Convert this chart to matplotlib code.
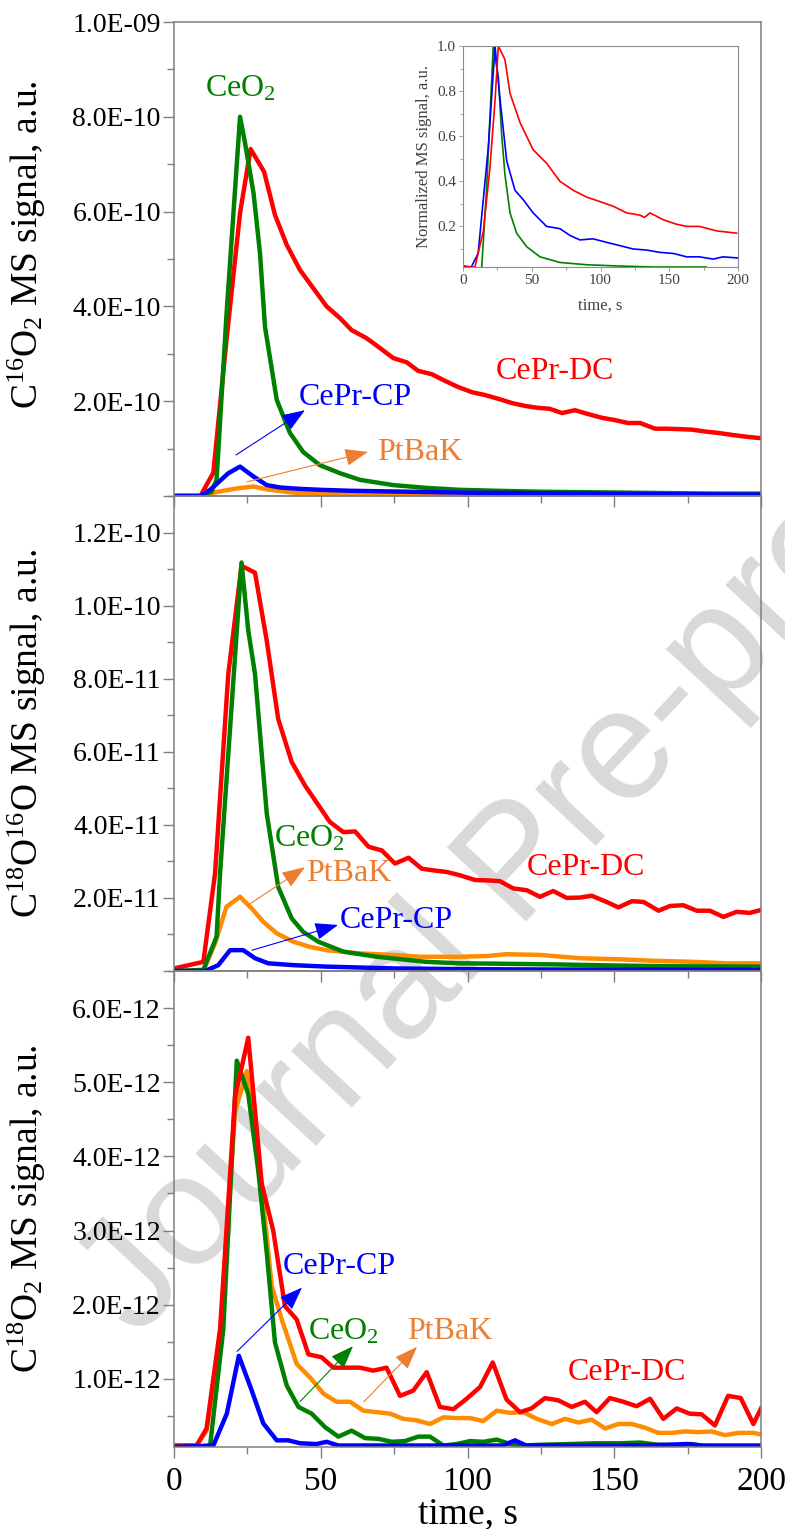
import numpy as np
import matplotlib
matplotlib.use("Agg")
import matplotlib.pyplot as plt
from matplotlib.ticker import MultipleLocator, FixedLocator, FuncFormatter

plt.rcParams['font.family'] = 'Liberation Serif'
plt.rcParams['mathtext.fontset'] = 'custom'
plt.rcParams['mathtext.rm'] = 'Liberation Serif'
plt.rcParams['mathtext.it'] = 'Liberation Serif:italic'

# ------------------------------------
# Data
# ------------------------------------
# top panel, C16O2, units of 1E-10
t_red1 = [0, 4.5, 9, 13.4, 17.9, 22.5, 26.1, 30.7, 34.4, 38.4, 42.9, 47.5, 52, 56.6, 60.5,
          65.6, 70.2, 74.7, 79.3, 83.2, 87.8, 92.3, 96.8, 101.5, 106, 110.5, 115.2, 119.6,
          124, 128, 132.2, 136.6, 141, 145.8, 150.3, 154.7, 158.8, 163.9, 168, 172.4, 176.5,
          181, 185.5, 190, 195, 200]
red1 = [0, 0, 0, 0.49, 3.3, 5.97, 7.32, 6.84, 5.93, 5.3, 4.77, 4.38, 4.0, 3.75, 3.5,
        3.33, 3.12, 2.91, 2.82, 2.64, 2.57, 2.43, 2.3, 2.19, 2.13, 2.05, 1.96, 1.9,
        1.86, 1.84, 1.75, 1.81, 1.73, 1.65, 1.6, 1.54, 1.54, 1.42, 1.42, 1.41, 1.40,
        1.36, 1.33, 1.29, 1.25, 1.22]
t_green1 = [0, 4.5, 9, 12.8, 14.5, 17.9, 22.5, 24.2, 27.1, 29.3, 31, 35, 39.5, 44, 49.7,
            56.6, 63.4, 74.7, 86.2, 97.4, 110, 125, 140, 155, 170, 185, 200]
green1 = [0, 0, 0, 0.09, 0.34, 3.84, 8.0, 7.45, 6.39, 5.12, 3.57, 2.03, 1.33, 0.93, 0.65,
          0.48, 0.34, 0.23, 0.17, 0.13, 0.11, 0.09, 0.08, 0.07, 0.06, 0.05, 0.05]
t_blue1 = [0, 4.5, 9, 12.3, 18.5, 22.5, 27.1, 31.6, 36.1, 42.9, 50, 60, 70, 80, 90, 100,
           120, 140, 160, 180, 200]
blue1 = [0, 0, 0, 0.13, 0.48, 0.62, 0.41, 0.23, 0.18, 0.15, 0.13, 0.11, 0.1, 0.09, 0.08,
         0.07, 0.06, 0.05, 0.04, 0.035, 0.03]
t_orange1 = [0, 4.5, 8.9, 15, 21.4, 27.1, 31.6, 40.7, 50, 60, 80, 100, 130, 160, 200]
orange1 = [0, 0, 0, 0.09, 0.16, 0.2, 0.14, 0.07, 0.05, 0.04, 0.03, 0.03, 0.02, 0.02, 0.02]

# middle panel, C18O16O, units of 1E-11
t_red2 = [0, 10, 14, 18.5, 23, 27.6, 31.6, 35.5, 40.1, 44.6, 49.2, 53.1, 57.7, 61.7, 66.3,
          70.8, 75.3, 79.9, 84.4, 88.8, 92.9, 97.4, 102.6, 106.8, 111, 115.6, 120.2, 124.7,
          129.2, 133.8, 138.3, 142.3, 147.4, 151.4, 156, 160, 165.1, 169, 173.5, 178.1,
          182.6, 187.2, 191.7, 196.2, 200]
red2 = [0.07, 0.25, 2.68, 8.13, 11.09, 10.9, 9.04, 6.9, 5.72, 5.08, 4.54, 4.08, 3.8, 3.82, 3.4,
        3.3, 2.94, 3.1, 2.8, 2.75, 2.71, 2.62, 2.49, 2.48, 2.46, 2.26, 2.21, 2.03,
        2.19, 2.0, 2.01, 2.06, 1.89, 1.74, 1.91, 1.89, 1.65, 1.78, 1.8, 1.65,
        1.65, 1.48, 1.62, 1.59, 1.67]
t_green2 = [0, 10, 14.5, 15.7, 23, 25.3, 27.6, 29.3, 31.6, 35.5, 40.1, 44, 49.2, 57.7, 69,
            86, 97.4, 110, 130, 150, 170, 200]
green2 = [0, 0.03, 0.94, 2.68, 11.18, 9.32, 8.13, 6.5, 4.31, 2.3, 1.44, 1.07, 0.8, 0.53, 0.39,
          0.25, 0.21, 0.2, 0.18, 0.15, 0.13, 0.12]
t_blue2 = [0, 10.6, 15.1, 19.1, 23.6, 27.6, 32.1, 40.7, 52, 75, 100, 130, 160, 200]
blue2 = [0, 0, 0.16, 0.57, 0.57, 0.35, 0.21, 0.16, 0.12, 0.07, 0.05, 0.04, 0.04, 0.03]
t_orange2 = [0, 10, 14, 17.9, 22.5, 26.5, 30.4, 35, 40.7, 46.3, 52, 63.4, 74.7, 83.8, 97.4,
             106.6, 113.3, 124.7, 138.3, 152, 163.3, 177, 188.3, 200]
orange2 = [0, 0, 0.76, 1.76, 2.03, 1.71, 1.35, 1.03, 0.8, 0.66, 0.57, 0.48, 0.44, 0.39, 0.39,
           0.41, 0.46, 0.44, 0.35, 0.32, 0.28, 0.25, 0.21, 0.21]

# bottom panel, C18O2, units of 1E-12
t_red3 = [0, 7.7, 11.1, 15.7, 20.8, 25.3, 29.9, 33.8, 37.8, 41.8, 45.8, 50.3, 54.3, 58.8,
          63.4, 67.9, 72.4, 77, 81.5, 86.1, 90.6, 95.2, 99.7, 104.3, 108.6, 113.3, 117.9,
          121.8, 126.4, 130.9, 135.5, 140, 144, 148.5, 153.1, 157.6, 162.2, 166.7, 171.3,
          175.6, 179.8, 184.3, 188.8, 193.1, 197.4, 200]
red3 = [0.1, 0.1, 0.33, 1.67, 4.8, 5.6, 3.63, 3.0, 1.98, 1.8, 1.33, 1.29, 1.15, 1.15,
        1.15, 1.11, 1.15, 0.77, 0.84, 1.09, 0.62, 0.59, 0.73, 0.89, 1.22, 0.72, 0.55,
        0.6, 0.74, 0.71, 0.62, 0.69, 0.55, 0.74, 0.69, 0.63, 0.73, 0.46, 0.6,
        0.53, 0.52, 0.37, 0.77, 0.74, 0.39, 0.6]
t_orange3 = [0, 7.7, 11.1, 15.7, 20.8, 24.8, 29.3, 33.3, 36.7, 41.8, 46.3, 50.9, 55.4, 60,
             64.5, 69.1, 73.6, 78.1, 82.7, 87.2, 91.8, 96.3, 100.9, 105.4, 110, 114.5, 119,
             123.6, 128.7, 133.2, 137.8, 142.3, 146.9, 151.4, 156, 160.5, 165, 169.6, 174.1,
             178.6, 183.2, 187.7, 192.3, 197.4, 200]
orange3 = [0.1, 0.1, 0.3, 1.55, 4.6, 5.15, 3.81, 2.25, 1.8, 1.2, 1.02, 0.8, 0.69, 0.69,
           0.57, 0.55, 0.53, 0.46, 0.44, 0.39, 0.48, 0.47, 0.47, 0.43, 0.57, 0.54, 0.55,
           0.46, 0.39, 0.46, 0.41, 0.45, 0.33, 0.39, 0.39, 0.34, 0.27, 0.27, 0.29,
           0.28, 0.29, 0.24, 0.27, 0.27, 0.25]
t_green3 = [0, 7.7, 12.3, 16.8, 21.4, 25.3, 28.7, 31.6, 34.4, 38.4, 42.4, 46.9, 51.4, 56,
            60.5, 65.1, 69.6, 74.2, 78.7, 83.2, 87.2, 91.8, 96.3, 100.9, 105.4, 110, 114.5,
            119, 125, 135, 143, 152, 158.8, 165, 172, 176, 181, 200]
green3 = [0.08, 0.08, 0.1, 1.67, 5.29, 4.84, 3.81, 2.7, 1.49, 0.91, 0.62, 0.53, 0.35, 0.22,
          0.3, 0.2, 0.19, 0.15, 0.16, 0.22, 0.22, 0.1, 0.12, 0.16, 0.15, 0.18, 0.12,
          0.1, 0.11, 0.12, 0.13, 0.13, 0.14, 0.11, 0.1, 0.12, 0.09, 0.08]
t_blue3 = [0, 13.4, 18, 22.1, 26.5, 30.4, 35, 38.9, 43, 48.6, 52, 56, 65, 80, 100, 112,
           116.2, 120, 140, 160, 175, 180, 200]
blue3 = [0.08, 0.1, 0.53, 1.31, 0.84, 0.4, 0.17, 0.17, 0.13, 0.12, 0.15, 0.1, 0.1, 0.1, 0.1,
         0.1, 0.17, 0.1, 0.1, 0.1, 0.12, 0.1, 0.1]

# inset, normalized C16O2
t_red_in = [0, 5, 8.7, 14.8, 19.6, 23.3, 25.7, 30.5, 34.2, 41.5, 51, 60.8, 70.5, 80.2, 89.9,
            99.6, 109, 119, 128.7, 132, 136, 145.5, 155, 162.7, 172, 184.5, 199]
red_in = [0.02, 0.02, 0.02, 0.18, 0.46, 0.76, 1.0, 0.94, 0.79, 0.66, 0.54, 0.48, 0.40, 0.36,
          0.33, 0.31, 0.29, 0.26, 0.25, 0.24, 0.26, 0.23, 0.21, 0.20, 0.20, 0.18, 0.17]
t_blue_in = [0, 6, 11, 18.4, 23.3, 27, 31.8, 37.8, 43.6, 51, 60.8, 70.5, 77.8, 85, 94.5, 104,
             114, 123.6, 133.6, 143, 153, 162.7, 172, 182, 189, 200]
blue_in = [0.025, 0.02, 0.08, 0.55, 1.0, 0.76, 0.49, 0.36, 0.32, 0.26, 0.20, 0.19, 0.16, 0.14,
           0.145, 0.13, 0.115, 0.10, 0.095, 0.085, 0.08, 0.065, 0.065, 0.055, 0.065, 0.06]
t_green_in = [0, 12, 13.6, 17.2, 22, 25.7, 28.1, 30.5, 34.2, 39, 46.3, 56, 70.5, 90, 110,
              138, 177]
green_in = [0.01, 0.01, 0.02, 0.37, 1.0, 0.86, 0.61, 0.43, 0.26, 0.17, 0.11, 0.065, 0.04,
            0.03, 0.025, 0.02, 0.02]

RED = '#ff0000'
GREEN = '#008000'
BLUE = '#0000ff'
ORANGE = '#ff8c00'
ORANGE_TXT = '#ed7d31'
SPINE = '#7f7f7f'

# ------------------------------------
# Figure layout
# ------------------------------------
fig = plt.figure(figsize=(7.85, 15.29), dpi=100)
left, width = 174 / 785, 587 / 785
H = 1529
ax1 = fig.add_axes([left, 1 - 496 / H, width, 474 / H])
ax2 = fig.add_axes([left, 1 - 971 / H, width, 475 / H])
ax3 = fig.add_axes([left, 1 - 1447 / H, width, 476 / H])

lw = 3.2


def sci(v, pos):
    if abs(v) < 1e-20:
        return ''
    return f"{v:.1E}"


def style(ax, ymax, ymin, major, minor, show_x):
    ax.set_facecolor('none')
    ax.set_xlim(0, 200)
    ax.set_ylim(ymin, ymax)
    ax.xaxis.set_major_locator(MultipleLocator(50))
    ax.xaxis.set_minor_locator(MultipleLocator(25))
    ax.yaxis.set_major_locator(MultipleLocator(major))
    ax.yaxis.set_minor_locator(MultipleLocator(minor))
    ax.yaxis.set_major_formatter(FuncFormatter(sci))
    for s in ax.spines.values():
        s.set_color(SPINE)
        s.set_linewidth(1.1)
    ax.tick_params(which='both', direction='out', color=SPINE, width=1.0,
                   right=False, top=False)
    ax.tick_params(which='major', length=8)
    ax.tick_params(which='minor', length=5)
    ax.tick_params(axis='y', labelsize=20, pad=1.5)
    ax.tick_params(axis='x', labelsize=24, pad=6, labelbottom=show_x)


def note(ax, txt, xy, color, start=None, end=None, acolor=None):
    ax.text(xy[0], xy[1], txt, color=color, fontsize=23, ha='center', va='center')
    if start is not None:
        ax.annotate('', xy=end, xytext=start,
                    arrowprops=dict(arrowstyle='-|>,head_length=0.8,head_width=0.3',
                                    mutation_scale=18, lw=0.8,
                                    color=acolor or color, shrinkA=0, shrinkB=0))


# ------------------------------------
# Top panel
# ------------------------------------
e10 = 1e-10
ax1.plot(t_orange1, np.array(orange1) * e10, color=ORANGE, lw=lw)
ax1.plot(t_red1, np.array(red1) * e10, color=RED, lw=lw)
ax1.plot(t_green1, np.array(green1) * e10, color=GREEN, lw=lw)
ax1.plot(t_blue1, np.array(blue1) * e10, color=BLUE, lw=lw)
style(ax1, 1e-9, 0, 2e-10, 1e-10, False)
ax1.set_ylabel(r'C$^{16}$O$_2$ MS signal, a.u.', fontsize=27)
note(ax1, r'CeO$_2$', (22.5, 8.6e-10), GREEN)
note(ax1, 'CePr-CP', (61.7, 2.07e-10), BLUE, (21.1, 0.865e-10), (44.6, 1.81e-10))
note(ax1, 'PtBaK', (83.8, 0.91e-10), ORANGE_TXT, (24.9, 0.30e-10), (66.1, 0.93e-10))
note(ax1, 'CePr-DC', (129.8, 2.62e-10), RED)

# ------------------------------------
# Middle panel
# ------------------------------------
e11 = 1e-11
ax2.plot(t_orange2, np.array(orange2) * e11, color=ORANGE, lw=lw)
ax2.plot(t_red2, np.array(red2) * e11, color=RED, lw=lw)
ax2.plot(t_green2, np.array(green2) * e11, color=GREEN, lw=lw)
ax2.plot(t_blue2, np.array(blue2) * e11, color=BLUE, lw=lw)
style(ax2, 1.3e-10, 0, 2e-11, 1e-11, False)
ax2.set_ylabel(r'C$^{18}$O$^{16}$O MS signal, a.u.', fontsize=27)
note(ax2, r'CeO$_2$', (46, 3.63e-11), GREEN)
note(ax2, 'PtBaK', (59.6, 2.68e-11), ORANGE_TXT, (25.2, 1.8e-11), (44.6, 2.84e-11))
note(ax2, 'CePr-CP', (75.6, 1.37e-11), BLUE, (26.6, 0.57e-11), (55.9, 1.26e-11))
note(ax2, 'CePr-DC', (140.4, 2.84e-11), RED)

# ------------------------------------
# Bottom panel
# ------------------------------------
e12 = 1e-12
ax3.plot(t_orange3, np.array(orange3) * e12, color=ORANGE, lw=lw)
ax3.plot(t_green3, np.array(green3) * e12, color=GREEN, lw=lw)
ax3.plot(t_red3, np.array(red3) * e12, color=RED, lw=lw)
ax3.plot(t_blue3, np.array(blue3) * e12, color=BLUE, lw=lw)
style(ax3, 6.5e-12, 0.08e-12, 1e-12, 0.5e-12, True)
ax3.set_ylabel(r'C$^{18}$O$_2$ MS signal, a.u.', fontsize=27)
ax3.set_xlabel('time, s', fontsize=27, labelpad=0)
note(ax3, 'CePr-CP', (56.2, 2.51e-12), BLUE, (21.5, 1.37e-12), (43.6, 2.23e-12))
note(ax3, r'CeO$_2$', (57.6, 1.64e-12), GREEN, (42.9, 0.69e-12), (61, 1.44e-12))
note(ax3, 'PtBaK', (94, 1.64e-12), ORANGE_TXT, (64.7, 0.69e-12), (82.8, 1.43e-12))
note(ax3, 'CePr-DC', (154.3, 1.09e-12), RED)

ax1.yaxis.set_label_coords(-0.215, 0.53)
ax2.yaxis.set_label_coords(-0.215, 0.5)
ax3.yaxis.set_label_coords(-0.215, 0.5)

# ------------------------------------
# Inset: normalized signal
# ------------------------------------
axi = fig.add_axes([463 / 785, 1 - 267 / H, 275 / 785, 221 / H])
axi.plot(t_green_in, green_in, color=GREEN, lw=1.2)
axi.plot(t_blue_in, blue_in, color=BLUE, lw=1.2)
axi.plot(t_red_in, red_in, color=RED, lw=1.2)
axi.set_xlim(0, 200)
axi.set_ylim(0.02, 1.0)
axi.xaxis.set_major_locator(MultipleLocator(50))
axi.xaxis.set_minor_locator(MultipleLocator(25))
axi.yaxis.set_major_locator(FixedLocator([0.2, 0.4, 0.6, 0.8, 1.0]))
axi.yaxis.set_minor_locator(MultipleLocator(0.1))
axi.yaxis.set_major_formatter(FuncFormatter(lambda v, p: f"{v:.1f}"))
for s in axi.spines.values():
    s.set_color('#8c8c8c')
    s.set_linewidth(0.8)
axi.tick_params(which='both', direction='out', color='#8c8c8c', width=0.6,
                labelsize=11, labelcolor='#404040', pad=2)
axi.tick_params(which='major', length=3)
axi.tick_params(which='minor', length=2)
axi.set_xlabel('time, s', fontsize=12, color='#404040', labelpad=8)
axi.set_ylabel('Normalized MS signal, a.u.', fontsize=12, color='#404040', labelpad=4)

# ------------------------------------
# Watermark
# ------------------------------------
fig.text(0.664, 0.433, 'Journal Pre-proof', rotation=47, fontsize=113,
         color='#d9d9d9', ha='center', va='center', rotation_mode='anchor',
         family='Liberation Sans', zorder=-1)

fig.savefig('out.png', dpi=100)
